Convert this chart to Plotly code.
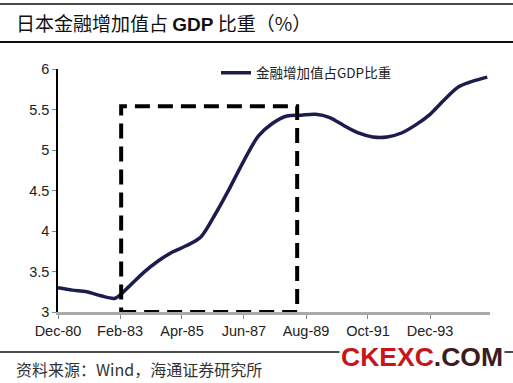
import plotly.graph_objects as go

# ---- data ----
dates = [
    "1980-12-01", "1981-06-01", "1981-12-01", "1982-06-01", "1982-12-01",
    "1983-06-01", "1983-12-01", "1984-06-01", "1984-12-01", "1985-06-01",
    "1985-12-01", "1986-06-01", "1986-12-01", "1987-06-01", "1987-12-01",
    "1988-06-01", "1988-12-01", "1989-06-01", "1989-12-01", "1990-06-01",
    "1990-12-01", "1991-06-01", "1991-12-01", "1992-06-01", "1992-12-01",
    "1993-06-01", "1993-12-01", "1994-06-01", "1994-12-01", "1995-06-01",
    "1995-12-01",
]
finance_share = [
    3.30, 3.27, 3.25, 3.20, 3.17,
    3.32, 3.49, 3.63, 3.74, 3.82,
    3.93, 4.21, 4.53, 4.87, 5.17,
    5.33, 5.42, 5.43, 5.44, 5.40,
    5.30, 5.21, 5.16, 5.16, 5.21,
    5.31, 5.44, 5.62, 5.78, 5.85,
    5.90,
]
series_name = "金融增加值占GDP比重"

x_tick_dates = ["1980-12-01", "1983-02-01", "1985-04-01", "1987-06-01",
                "1989-08-01", "1991-10-01", "1993-12-01"]
x_tick_labels = ["Dec-80", "Feb-83", "Apr-85", "Jun-87", "Aug-89", "Oct-91", "Dec-93"]
y_tick_values = [3, 3.5, 4, 4.5, 5, 5.5, 6]
y_tick_labels = ["3", "3.5", "4", "4.5", "5", "5.5", "6"]

# highlighted period (dashed box)
highlight_start = "1983-02-15"
highlight_end = "1989-04-10"
highlight_top = 5.54

title_text = ('日本金融增加值占 <span style="font-family:Arial;font-weight:bold">GDP</span> 比重（%）')
source_text = "资料来源：Wind，海通证券研究所"

# ---- figure ----
W, H = 513, 383
ML, MR, MT, MB = 58, 23, 69, 71
PW, PH = W - ML - MR, H - MT - MB


def px_x(px):
    return (px - ML) / PW


def px_y(py):
    return (H - MB - py) / PH


fig = go.Figure()
fig.add_trace(go.Scatter(
    x=dates, y=finance_share, mode="lines", name=series_name,
    line=dict(color="#1c1c4e", width=3.5, shape="spline", smoothing=0.8),
))

# dashed highlight box
fig.add_shape(type="rect", xref="x", yref="y",
              x0=highlight_start, x1=highlight_end, y0=3, y1=highlight_top,
              line=dict(color="black", width=4, dash="15px,8px"),
              fillcolor="rgba(0,0,0,0)", layer="above")

# header / footer rules
for py, lw in [(4, 1.5), (42, 2), (352, 1.5)]:
    fig.add_shape(type="line", xref="paper", yref="paper",
                  x0=px_x(0), x1=px_x(W), y0=px_y(py), y1=px_y(py),
                  line=dict(color="#111111", width=lw))

fig.add_annotation(text=title_text, xref="paper", yref="paper",
                   x=px_x(14), y=px_y(22), xanchor="left", yanchor="middle",
                   showarrow=False,
                   font=dict(family="Noto Sans CJK SC", size=19, color="#111111"))
fig.add_annotation(text=source_text, xref="paper", yref="paper",
                   x=px_x(14), y=px_y(369), xanchor="left", yanchor="middle",
                   showarrow=False,
                   font=dict(family="Noto Sans CJK SC", size=16, color="#333333"))
fig.add_annotation(text='<span style="color:#c8141a">CKEXC</span><span style="color:#3d1c1c">.COM</span>',
                   xref="paper", yref="paper",
                   x=px_x(339), y=px_y(357), xanchor="left", yanchor="middle",
                   showarrow=False, bgcolor="white", borderpad=1,
                   font=dict(family="Arial", size=26.5,
                             weight="bold", color="#c8141a"))

fig.update_layout(
    width=W, height=H, autosize=False,
    margin=dict(l=ML, r=MR, t=MT, b=MB, pad=0),
    paper_bgcolor="white", plot_bgcolor="white",
    showlegend=True,
    legend=dict(x=px_x(216), y=px_y(73), xanchor="left", yanchor="middle",
                bgcolor="rgba(0,0,0,0)", borderwidth=0,
                font=dict(family="Noto Sans CJK SC", size=13.5, color="#222222")),
    xaxis=dict(type="date", range=["1980-12-01", "1996-01-05"],
               tickvals=x_tick_dates, ticktext=x_tick_labels,
               showline=True, linecolor="#aaaaaa", linewidth=2.5,
               ticks="outside", ticklen=4, tickcolor="#888888", tickwidth=1,
               showgrid=False, zeroline=False,
               tickfont=dict(family="Arial", size=14.5, color="#222222")),
    yaxis=dict(range=[3, 6], tickvals=y_tick_values, ticktext=y_tick_labels,
               showline=True, linecolor="black", linewidth=1.5,
               ticks="outside", ticklen=4, tickcolor="#888888", tickwidth=1,
               showgrid=False, zeroline=False,
               tickfont=dict(family="Arial", size=14.5, color="#222222")),
)

fig.write_html("out.html",
               config={"displayModeBar": False},
               post_script="document.body.style.margin='0';document.body.style.overflow='hidden';")
